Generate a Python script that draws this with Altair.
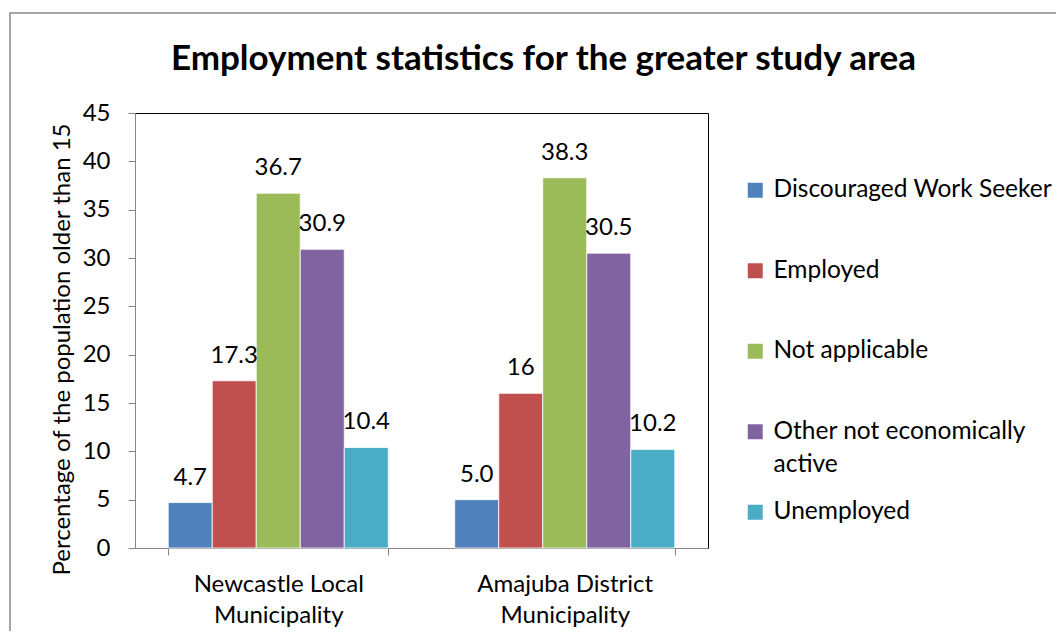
import altair as alt
import pandas as pd

areas = ["Newcastle Local Municipality", "Amajuba District Municipality"]
series = ["Discouraged Work Seeker", "Employed", "Not applicable",
          "Other not economically active", "Unemployed"]
newcastle = [4.7, 17.3, 36.7, 30.9, 10.4]
amajuba = [5.0, 16.0, 38.3, 30.5, 10.2]
newcastle_labels = ["4.7", "17.3", "36.7", "30.9", "10.4"]
amajuba_labels = ["5.0", "16", "38.3", "30.5", "10.2"]
colors = ["#4F81BD", "#C0504D", "#9BBB59", "#8064A2", "#4BACC6"]
y_ticks = [0, 5, 10, 15, 20, 25, 30, 35, 40, 45]

rows = []
for area, vals, labs in [(areas[0], newcastle, newcastle_labels),
                         (areas[1], amajuba, amajuba_labels)]:
    for s, v, l in zip(series, vals, labs):
        rows.append({"area": area, "series": s, "value": v, "label": l})
df = pd.DataFrame(rows)

FONT = "Lato"
FS = 24

x_enc = alt.X("area:N", sort=areas,
              scale=alt.Scale(paddingInner=0.232, paddingOuter=0.116),
              axis=alt.Axis(title=None, labelAngle=0, tickBand="extent",
                            tickSize=7, labelPadding=17, labelLineHeight=31,
                            labelExpr="[slice(datum.label, 0, lastindexof(datum.label, ' ')), slice(datum.label, lastindexof(datum.label, ' ') + 1)]"))
xoff_enc = alt.XOffset("series:N", sort=series,
                       scale=alt.Scale(paddingInner=0, paddingOuter=0))
y_enc = alt.Y("value:Q", scale=alt.Scale(domain=[0, 45], nice=False),
              axis=alt.Axis(values=y_ticks, grid=False, tickSize=7, labelPadding=18,
                            title="Percentage of the population older than 15",
                            titleFontSize=FS, titleFont=FONT, titleFontWeight="normal",
                            titleColor="black", titleAngle=270, titleX=-73,
                            titleY=236, titleAlign="center", titleBaseline="middle"))

base = alt.Chart(df)

bars = base.mark_bar(stroke="white", strokeWidth=0.8).encode(
    x=x_enc,
    xOffset=xoff_enc,
    y=y_enc,
    color=alt.Color("series:N", sort=series,
                    scale=alt.Scale(domain=series, range=colors),
                    legend=alt.Legend(
                        title=None, orient="none", legendX=608, legendY=65,
                        symbolType="square", symbolSize=225, symbolStrokeWidth=0,
                        labelFontSize=24.5, labelFont=FONT, labelColor="black",
                        labelOffset=6, rowPadding=22.5, labelLimit=400,
                        gridAlign="all",
                        labelExpr="datum.label == 'Other not economically active' ? ['Other not economically', 'active'] : datum.label")),
)

labels = base.mark_text(dy=-25, fontSize=FS, font=FONT, color="black").encode(
    x=alt.X("area:N", sort=areas),
    xOffset=alt.XOffset("series:N", sort=series),
    y=alt.Y("value:Q"),
    text="label:N",
)

border = alt.Chart(pd.DataFrame({"k": [0]})).mark_rect(
    fillOpacity=0, stroke="#898989", strokeWidth=1.5
).encode(
    x=alt.value(-125), x2=alt.value(1000),
    y=alt.value(-100), y2=alt.value(600),
)

chart = alt.layer(border, bars, labels).properties(
    width=573, height=435,
    title=alt.TitleParams("Employment statistics for the greater study area",
                          fontSize=35, font=FONT, fontWeight="bold", color="black",
                          anchor="middle", frame="group", dx=122, offset=0,
                          baseline="alphabetic", dy=93),
    autosize=alt.AutoSizeParams(type="none"),
    padding={"left": 127, "top": 105, "right": 348, "bottom": 83},
).configure(
    style={"guide-label": {"lineHeight": 33}}
).configure_view(
    stroke="black", strokeWidth=1
).configure_axis(
    domainColor="#868686", tickColor="#868686", labelFont=FONT,
    labelFontSize=FS, labelColor="black"
)

chart.save("out.html", embed_options={"renderer": "svg", "actions": False})
